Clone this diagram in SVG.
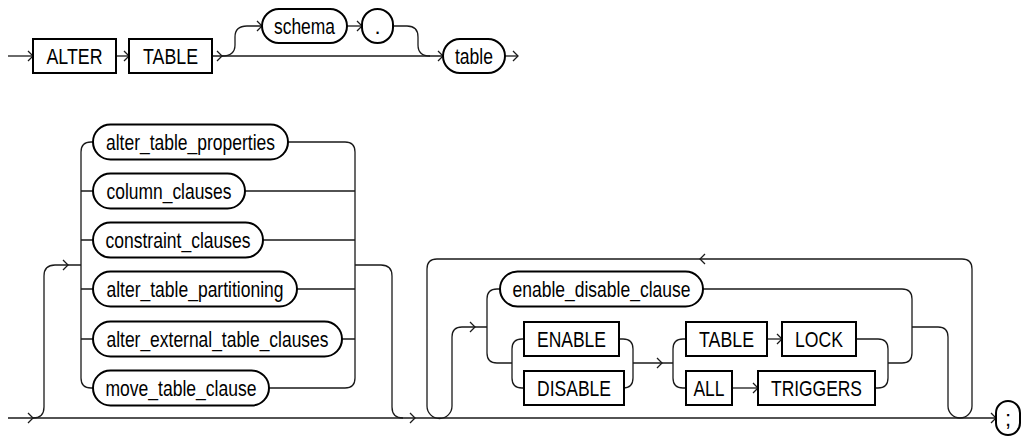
<svg xmlns="http://www.w3.org/2000/svg" xmlns:xlink="http://www.w3.org/1999/xlink" width="1023" height="438" viewBox="0 0 1023 438">
<style>
.c{fill:none;stroke:#1a1a1a;stroke-width:1.3}
.n{fill:#fff;stroke:#000;stroke-width:2}
.t{font-family:"Liberation Sans",Arial,sans-serif;font-size:22px;fill:#000;text-anchor:middle}
.a{fill:none;stroke:#1a1a1a;stroke-width:1.3}
</style>
<defs>
<path id="ar" class="a" d="M-5,-5 L0,0 L-5,5"/>
</defs>
<rect width="1023" height="438" fill="#fff"/>
<g id="connectors">
<path class="c" d="M8,56 H33"/>
<path class="c" d="M116,56 H129"/>
<path class="c" d="M212,56 H443"/>
<path class="c" d="M222,56 Q235,56 235,45 V37 Q235,26 247,26 H262"/>
<path class="c" d="M347,26 H362"/>
<path class="c" d="M393,26 H407 Q418,26 418,37 V45 Q418,56 430,56"/>
<path class="c" d="M505,56 H518"/>
<use xlink:href="#ar" x="33" y="56"/>
<use xlink:href="#ar" x="129" y="56"/>
<use xlink:href="#ar" x="222" y="56"/>
<use xlink:href="#ar" x="262" y="26"/>
<use xlink:href="#ar" x="362" y="26"/>
<use xlink:href="#ar" x="443" y="56"/>
<use xlink:href="#ar" x="518" y="56"/>
<path class="c" d="M8,418 H996"/>
<use xlink:href="#ar" x="33" y="418"/>
<use xlink:href="#ar" x="415" y="418"/>
<use xlink:href="#ar" x="996" y="418"/>
<path class="c" d="M33,418 Q44,418 44,407 V276 Q44,265 55,265 H81"/>
<use xlink:href="#ar" x="68" y="265"/>
<path class="c" d="M93,142 H91 Q81,142 81,152 V378 Q81,388 91,388 H93"/>
<path class="c" d="M81,191 H93 M81,240 H93 M81,289 H93 M81,339 H93"/>
<path class="c" d="M288,142 H345 Q355,142 355,152 V378 Q355,388 345,388 H269"/>
<path class="c" d="M245,191 H355 M263,240 H355 M297,289 H355 M342,339 H355"/>
<path class="c" d="M355,265 H381 Q392,265 392,276 V407 Q392,418 403,418"/>
<path class="c" d="M948,337 V406 A12,12 0 0 0 972,406 V269 Q972,259 962,259 H437 Q427,259 427,269 V406 A12.5,12.5 0 0 0 452,406 V337 Q452,327 462,327 H487"/>
<use xlink:href="#ar" x="700" y="259" transform="rotate(180 700 259)"/>
<use xlink:href="#ar" x="475" y="327"/>
<path class="c" d="M500,289 H497 Q487,289 487,299 V353 Q487,363 497,363 H512"/>
<path class="c" d="M524,339 H522 Q512,339 512,349 V378 Q512,388 522,388 H524"/>
<path class="c" d="M619,339 H623 Q633,339 633,349 V378 Q633,388 623,388"/>
<path class="c" d="M633,363 H673"/>
<use xlink:href="#ar" x="662" y="363"/>
<path class="c" d="M686,339 H683 Q673,339 673,349 V378 Q673,388 683,388 H686"/>
<path class="c" d="M767,339 H782"/>
<use xlink:href="#ar" x="782" y="339"/>
<path class="c" d="M732,388 H758"/>
<use xlink:href="#ar" x="758" y="388"/>
<path class="c" d="M856,339 H878 Q888,339 888,349 V378 Q888,388 878,388 H875"/>
<path class="c" d="M703,289 H902 Q912,289 912,299 V353 Q912,363 902,363 H888"/>
<path class="c" d="M912,327 H938 Q948,327 948,337"/>
</g>
<g id="n-alter"><rect class="n" x="33" y="39" width="83" height="34"/><text class="t" x="74.5" y="64" textLength="56" lengthAdjust="spacingAndGlyphs">ALTER</text></g>
<g id="n-table-kw"><rect class="n" x="129" y="39" width="83" height="34"/><text class="t" x="170.5" y="64" textLength="55" lengthAdjust="spacingAndGlyphs">TABLE</text></g>
<g id="n-schema"><rect class="n" x="262" y="9" width="85" height="34" rx="17"/><text class="t" x="304.5" y="34" textLength="61" lengthAdjust="spacingAndGlyphs">schema</text></g>
<g id="n-dot"><rect class="n" x="362" y="9" width="31" height="34" rx="15.5"/><text class="t" x="377.5" y="34">.</text></g>
<g id="n-table"><rect class="n" x="443" y="39" width="62" height="34" rx="17"/><text class="t" x="474" y="64" textLength="38" lengthAdjust="spacingAndGlyphs">table</text></g>
<g id="n-atp"><rect class="n" x="93" y="124.5" width="195" height="35" rx="17.5"/><text class="t" x="190.5" y="150" textLength="169" lengthAdjust="spacingAndGlyphs">alter_table_properties</text></g>
<g id="n-cc"><rect class="n" x="93" y="173.5" width="152" height="35" rx="17.5"/><text class="t" x="169" y="199" textLength="125" lengthAdjust="spacingAndGlyphs">column_clauses</text></g>
<g id="n-conc"><rect class="n" x="93" y="222.5" width="170" height="35" rx="17.5"/><text class="t" x="178" y="248" textLength="145" lengthAdjust="spacingAndGlyphs">constraint_clauses</text></g>
<g id="n-atpart"><rect class="n" x="93" y="271.5" width="204" height="35" rx="17.5"/><text class="t" x="195" y="297" textLength="177" lengthAdjust="spacingAndGlyphs">alter_table_partitioning</text></g>
<g id="n-aetc"><rect class="n" x="93" y="321.5" width="249" height="35" rx="17.5"/><text class="t" x="217.5" y="347" textLength="222" lengthAdjust="spacingAndGlyphs">alter_external_table_clauses</text></g>
<g id="n-mtc"><rect class="n" x="93" y="370.5" width="176" height="35" rx="17.5"/><text class="t" x="181" y="396" textLength="151" lengthAdjust="spacingAndGlyphs">move_table_clause</text></g>
<g id="n-edc"><rect class="n" x="500" y="271.5" width="203" height="35" rx="17.5"/><text class="t" x="601.5" y="297" textLength="178" lengthAdjust="spacingAndGlyphs">enable_disable_clause</text></g>
<g id="n-enable"><rect class="n" x="524" y="322" width="95" height="34"/><text class="t" x="571.5" y="347" textLength="69" lengthAdjust="spacingAndGlyphs">ENABLE</text></g>
<g id="n-disable"><rect class="n" x="524" y="371" width="100" height="34"/><text class="t" x="574" y="396" textLength="74" lengthAdjust="spacingAndGlyphs">DISABLE</text></g>
<g id="n-table2"><rect class="n" x="686" y="322" width="81" height="34"/><text class="t" x="726.5" y="347" textLength="55" lengthAdjust="spacingAndGlyphs">TABLE</text></g>
<g id="n-lock"><rect class="n" x="782" y="322" width="74" height="34"/><text class="t" x="819" y="347" textLength="48" lengthAdjust="spacingAndGlyphs">LOCK</text></g>
<g id="n-all"><rect class="n" x="686" y="371" width="46" height="34"/><text class="t" x="709" y="396" textLength="31" lengthAdjust="spacingAndGlyphs">ALL</text></g>
<g id="n-triggers"><rect class="n" x="758" y="371" width="117" height="34"/><text class="t" x="816.5" y="396" textLength="91" lengthAdjust="spacingAndGlyphs">TRIGGERS</text></g>
<g id="n-semi"><rect class="n" x="996" y="401" width="24" height="34" rx="12"/><text class="t" x="1008" y="426">;</text></g>
</svg>
